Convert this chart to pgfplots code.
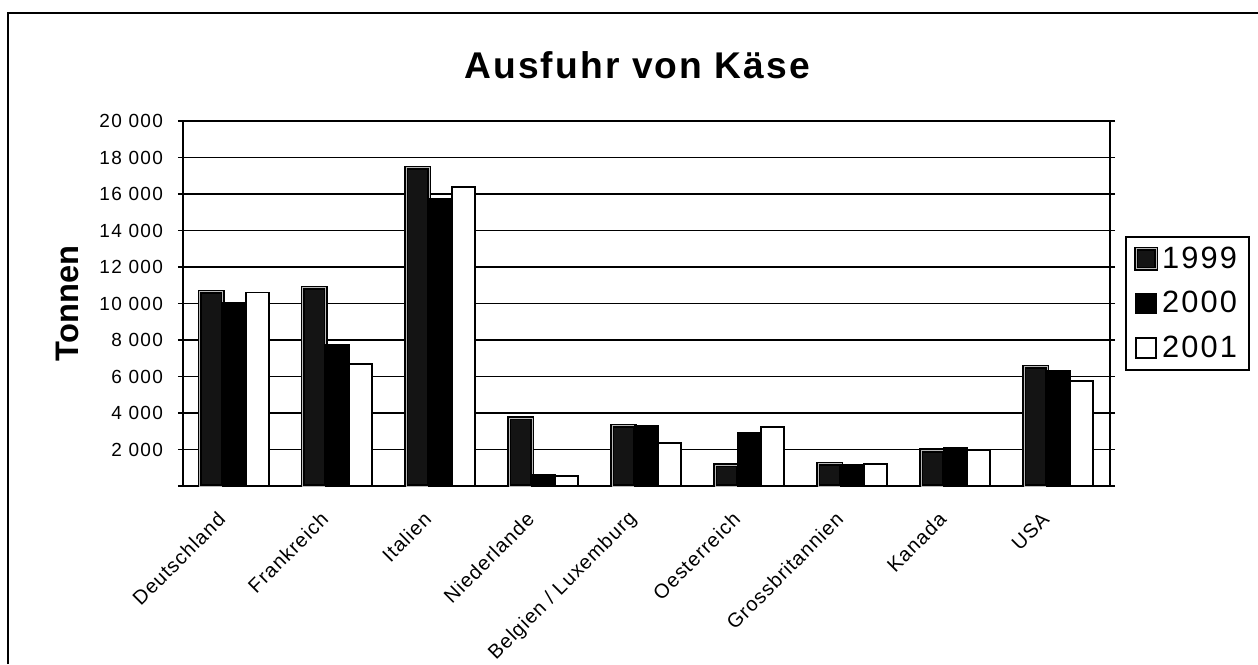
\documentclass[border=0pt]{standalone}
\usepackage{fontspec}
\setmainfont{Liberation Sans}
\newfontfamily\spaced{Liberation Sans}[LetterSpace=7]
\newfontfamily\xspaced{Liberation Sans}[LetterSpace=5]
\newfontfamily\titlefont{Liberation Sans}[LetterSpace=5.7]
\usepackage{pgfplots}
\pgfplotsset{compat=1.18}
\begin{document}
\begin{tikzpicture}
\useasboundingbox (-91.5pt,-89pt) rectangle (537.5pt,243pt);
\begin{axis}[
  scale only axis, width=463.5pt, height=182.5pt,
  at={(0,0)}, anchor=south west,
  xmin=-0.5, xmax=8.5, ymin=0, ymax=20000,
  scaled y ticks=false,
  ybar=0pt, bar width=11.5pt,
  xtick={0,...,8},
  xticklabels={Deutschland,Frankreich,Italien,Niederlande,Belgien / Luxemburg,Oesterreich,Grossbritannien,Kanada,USA},
  minor xtick={-0.5,0.5,...,8.5},
  xtick style={draw=none},
  minor x tick style={black, line width=0.8pt},
  ytick={0,2000,...,20000},
  yticklabels={{},{2 000},{4 000},{6 000},{8 000},{10 000},{12 000},{14 000},{16 000},{18 000},{20 000}},
  y tick style={black, line width=0.8pt},
  tick align=outside,
  major tick length=2.5pt, minor tick length=3pt,
  ymajorgrids, grid style={black, line width=0.9pt},
  axis line style={black, line width=1pt},
  xticklabel style={xshift=-4pt, yshift=-10pt, rotate=45, anchor=east, font=\xspaced\fontsize{10}{12}\selectfont},
  yticklabel style={xshift=-4pt, font=\spaced\fontsize{9.5}{11}\selectfont},
  title={Ausfuhr von Käse},
  title style={at={(axis description cs:0.49,1.12)}, anchor=center, font=\titlefont\bfseries\fontsize{18.6}{22}\selectfont},
  ylabel={Tonnen},
  ylabel style={at={(axis description cs:-0.1251,0.5)}, anchor=center, font=\bfseries\fontsize{16.3}{19}\selectfont},
  legend style={at={(1,0.5)}, anchor=west, xshift=7.5pt, draw=black, line width=0.9pt,
    font=\spaced\fontsize{15.4}{18}\selectfont, row sep=8pt, inner xsep=4pt, inner ysep=4pt,
    nodes={inner xsep=2pt, inner ysep=1pt}},
  legend cell align=left,
  sqleg/.style={legend image code/.code={\draw[##1] (0pt,-5pt) rectangle (10pt,5pt);}},
]
\addplot[sqleg, fill=black!92, draw=black, line width=0.8pt, double=gray!55, double distance=0.5pt] coordinates {
  (0,10650) (1,10870) (2,17440) (3,3710) (4,3300) (5,1130) (6,1220) (7,1940) (8,6540)};
\addplot[sqleg, fill=black, draw=black, line width=0.9pt] coordinates {
  (0,10050) (1,7730) (2,15730) (3,600) (4,3270) (5,2920) (6,1130) (7,2070) (8,6300)};
\addplot[sqleg, fill=white, draw=black, line width=0.9pt] coordinates {
  (0,10600) (1,6670) (2,16400) (3,560) (4,2340) (5,3250) (6,1220) (7,1940) (8,5770)};
\legend{1999,2000,2001}
\end{axis}
\draw[line width=0.6pt] (-87.5pt,-89pt) -- (-87.5pt,236.5pt) -- (537.5pt,236.5pt);
\end{tikzpicture}
\end{document}
